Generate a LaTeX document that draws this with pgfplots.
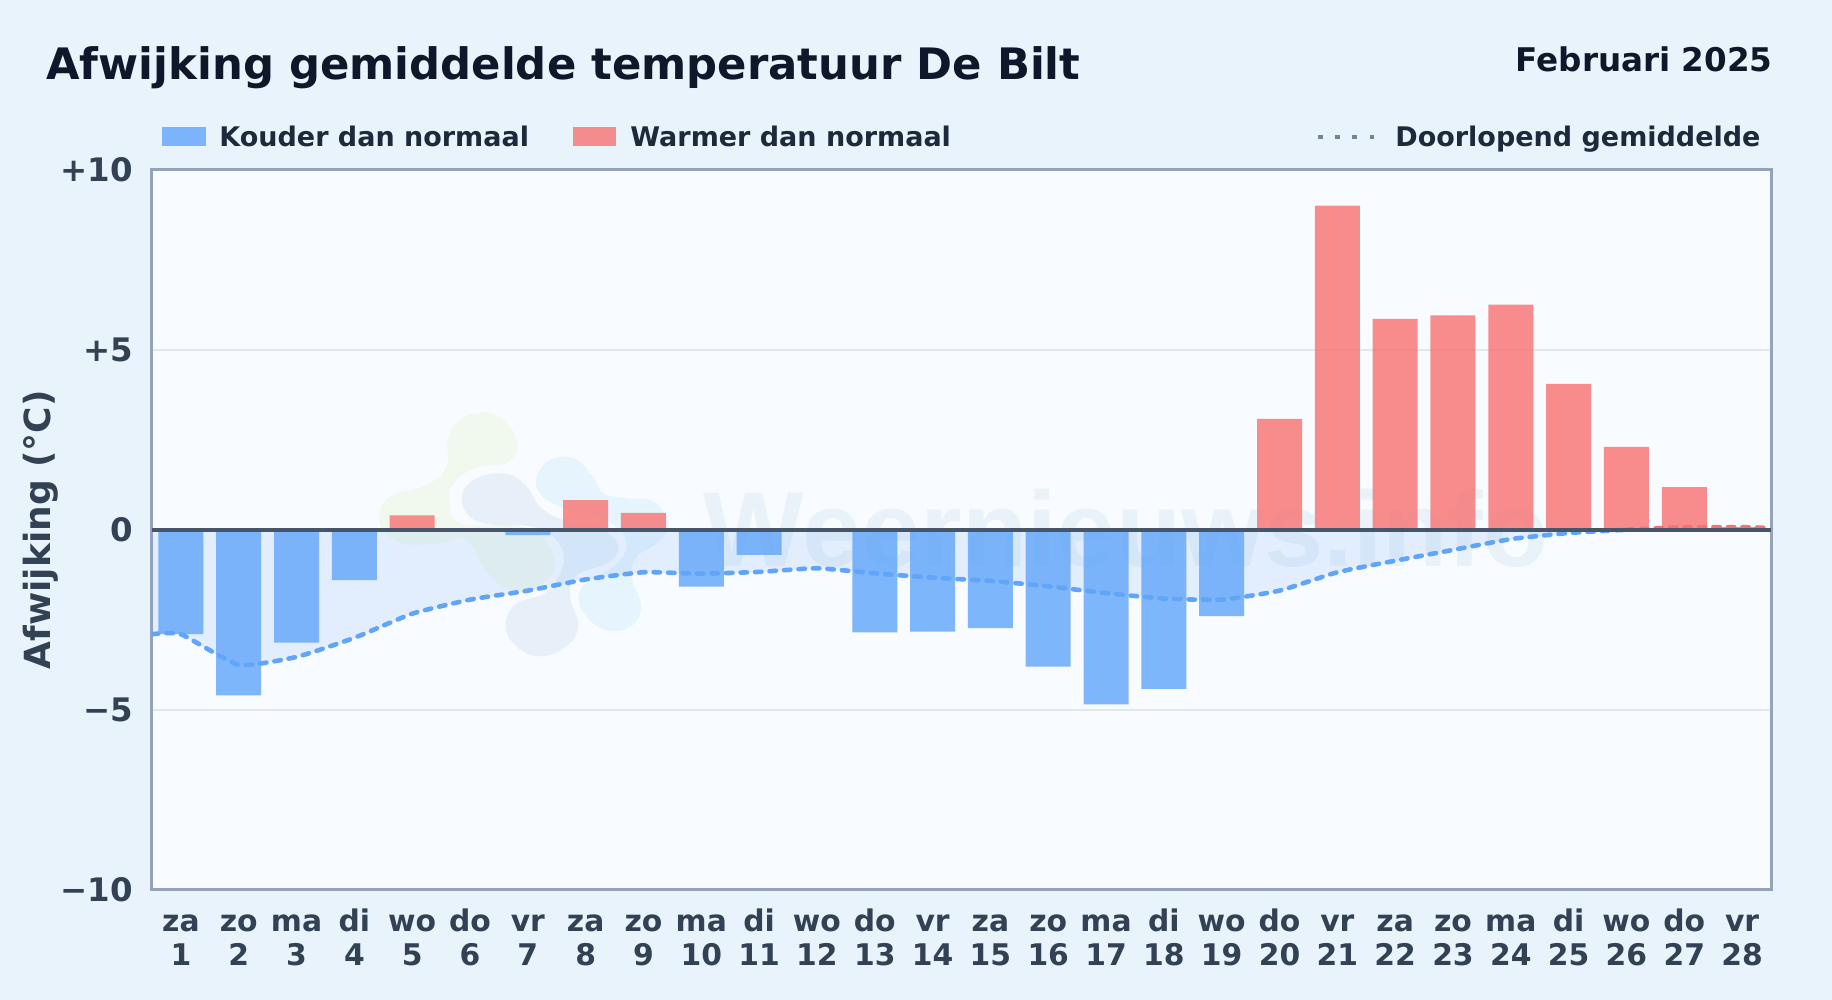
\documentclass[border=0pt]{standalone}
\usepackage{pgfplots}
\usepackage{fontspec}
\pgfplotsset{compat=1.18}
\setmainfont{DejaVu Sans}[BoldFont={DejaVu Sans Bold}]
\newfontfamily\wmfont{Liberation Sans Bold}

\definecolor{pagebg}{HTML}{E8F3FC}
\definecolor{plotbg}{HTML}{F8FBFF}
\definecolor{koud}{HTML}{60A5FA}
\definecolor{warm}{HTML}{F87171}
\definecolor{rand}{HTML}{94A3B8}
\definecolor{rooster}{HTML}{DFE7EF}
\definecolor{nul}{HTML}{475569}
\definecolor{titel}{HTML}{0F172A}
\definecolor{tekst}{HTML}{1E293B}
\definecolor{as}{HTML}{334155}
\definecolor{wmtekst}{HTML}{E9F1F9}
\definecolor{wmgroen}{HTML}{F1F8EE}
\definecolor{wmgrijs}{HTML}{E7F0F8}
\definecolor{wmblauw}{HTML}{E6F4FE}

% two-line day label with a fixed baseline
\newcommand{\dl}[2]{\strut#1\\\strut#2}

\begin{document}
\begin{tikzpicture}
  % everything outside the axis is placed in image pixels (1px = 0.5pt)
  \begin{scope}[shift={(-76pt,445pt)},x=0.5pt,y=-0.5pt]
    \fill[pagebg] (0,0) rectangle (1832,1000);
    \fill[plotbg] (152,169.5) rectangle (1771,890);
    % watermark
    \node[anchor=base west,inner sep=0pt,text=wmtekst] at (703,567)
      {\fontsize{53.3pt}{53.3pt}\wmfont Weernieuws.info};
    \begin{scope}[shift={(360,400)},x=0.1667pt,y=-0.1667pt]
      \fill[wmgroen] plot[smooth cycle,tension=0.7] coordinates {
        (320,48) (410,45) (470,120) (445,185) (345,205) (280,250) (270,310)
        (300,370) (450,375) (540,405) (580,470) (570,530) (500,570) (430,560)
        (370,500) (320,420) (240,430) (130,430) (70,390) (60,330) (100,285)
        (200,255) (260,200) (265,110)};
      \fill[wmgrijs] plot[smooth cycle,tension=0.7] coordinates {
        (305,290) (350,235) (440,222) (500,260) (540,320) (610,360) (720,385)
        (775,440) (740,490) (650,525) (630,590) (655,680) (610,745) (530,768)
        (460,730) (437,670) (470,610) (560,575) (610,490) (590,420) (520,380)
        (400,375) (330,350)};
      \fill[wmblauw] plot[smooth cycle,tension=0.7] coordinates {
        (530,230) (570,180) (640,175) (695,225) (730,280) (800,295) (880,305)
        (925,370) (890,430) (830,470) (815,530) (843,620) (810,680) (740,690)
        (680,650) (655,590) (690,540) (760,500) (800,440) (770,380) (680,340)
        (600,320) (540,280)};
    \end{scope}
    % title and legend
    \node[anchor=base west,inner sep=0pt,text=titel] at (46,80)
      {\fontsize{21.67pt}{21.67pt}\selectfont\bfseries Afwijking gemiddelde temperatuur De Bilt};
    \node[anchor=base east,inner sep=0pt,text=titel] at (1773,72)
      {\fontsize{16.3pt}{16.3pt}\selectfont\bfseries Februari 2025};
    \fill[koud,opacity=0.8] (162,127) rectangle (206,146);
    \node[anchor=base west,inner sep=0pt,text=tekst] at (219,147)
      {\fontsize{13.5pt}{13.5pt}\selectfont\bfseries Kouder dan normaal};
    \fill[warm,opacity=0.8] (573,127) rectangle (616,146);
    \node[anchor=base west,inner sep=0pt,text=tekst] at (630,147)
      {\fontsize{13.5pt}{13.5pt}\selectfont\bfseries Warmer dan normaal};
    \draw[rand!60!nul,line width=2.4pt,dash pattern=on 2.5pt off 6.1pt] (1318,137) -- (1374,137);
    \node[anchor=base west,inner sep=0pt,text=tekst] at (1395,147)
      {\fontsize{13.5pt}{13.5pt}\selectfont\bfseries Doorlopend gemiddelde};
  \end{scope}

  \begin{axis}[
      at={(0,0)}, anchor=south west,
      scale only axis,
      width=809.5pt, height=360.25pt,
      xmin=0.5, xmax=28.5,
      ymin=-10, ymax=10,
      xtick={1,...,28},
      ytick={-10,-5,0,5,10},
      yticklabels={−10,−5,0,+5,+10},
      xticklabels={\dl{za}{1},\dl{zo}{2},\dl{ma}{3},\dl{di}{4},\dl{wo}{5},\dl{do}{6},\dl{vr}{7},\dl{za}{8},\dl{zo}{9},\dl{ma}{10},\dl{di}{11},\dl{wo}{12},\dl{do}{13},\dl{vr}{14},\dl{za}{15},\dl{zo}{16},\dl{ma}{17},\dl{di}{18},\dl{wo}{19},\dl{do}{20},\dl{vr}{21},\dl{za}{22},\dl{zo}{23},\dl{ma}{24},\dl{di}{25},\dl{wo}{26},\dl{do}{27},\dl{vr}{28}},
      major tick length=0pt,
      ymajorgrids,
      major grid style={rooster,line width=1pt},
      axis line style={rand,line width=1.5pt},
      xticklabel style={align=center,text=as,font=\fontsize{14.9pt}{17pt}\selectfont\bfseries,yshift=-5.25pt},
      yticklabel style={text=as,font=\fontsize{16.2pt}{17pt}\selectfont\bfseries,xshift=-6pt},
      ylabel={Afwijking (°C)},
      every axis y label/.style={at={(axis description cs:-0.0688,0.5)},rotate=90,anchor=center},
      ylabel style={text=as,font=\fontsize{18pt}{18pt}\selectfont\bfseries},
      clip=true,
    ]

    % area under the running mean
    \addplot[draw=none,fill=koud,fill opacity=0.14,smooth,tension=0.3] coordinates {
      (0.5,-2.9) (1,-2.9) (2,-3.75) (3,-3.53) (4,-3.0) (5,-2.33) (6,-1.94) (7,-1.69)
      (8,-1.38) (9,-1.18) (10,-1.22) (11,-1.17) (12,-1.07) (13,-1.21) (14,-1.33)
      (15,-1.42) (16,-1.57) (17,-1.76) (18,-1.91) (19,-1.94) (20,-1.69) (21,-1.18)
      (22,-0.86) (23,-0.56) (24,-0.26) (25,-0.09) (26,0)
    } \closedcycle;

    % colder days
    \addplot[ybar,bar shift=0pt,bar width=22.5pt,draw=none,fill=koud,fill opacity=0.8] coordinates {
      (1,-2.9) (2,-4.6) (3,-3.13) (4,-1.4) (7,-0.15) (10,-1.58) (11,-0.7)
      (13,-2.85) (14,-2.83) (15,-2.73) (16,-3.8) (17,-4.85) (18,-4.42) (19,-2.4)
    };
    % warmer days
    \addplot[ybar,bar shift=0pt,bar width=22.5pt,draw=none,fill=warm,fill opacity=0.8] coordinates {
      (5,0.4) (8,0.82) (9,0.47) (20,3.08) (21,9.0) (22,5.85) (23,5.95) (24,6.25)
      (25,4.05) (26,2.3) (27,1.18) (28,0.07)
    };

    % running mean
    \addplot[koud,line width=2.3pt,line cap=round,dash pattern=on 3.2pt off 4.05pt,smooth,tension=0.3] coordinates {
      (0.5,-2.9) (1,-2.9) (2,-3.75) (3,-3.53) (4,-3.0) (5,-2.33) (6,-1.94) (7,-1.69)
      (8,-1.38) (9,-1.18) (10,-1.22) (11,-1.17) (12,-1.07) (13,-1.21) (14,-1.33)
      (15,-1.42) (16,-1.57) (17,-1.76) (18,-1.91) (19,-1.94) (20,-1.69) (21,-1.18)
      (22,-0.86) (23,-0.56) (24,-0.26) (25,-0.09) (26,0)
    };
    \addplot[warm,line width=2.3pt,line cap=round,dash pattern=on 3.2pt off 4.05pt,smooth,tension=0.3] coordinates {
      (26,0) (27,0.07) (28,0.07) (28.5,0.05)
    };

    % zero line
    \addplot[nul,line width=2pt] coordinates {(0.5,0) (28.5,0)};
  \end{axis}
\end{tikzpicture}
\end{document}
